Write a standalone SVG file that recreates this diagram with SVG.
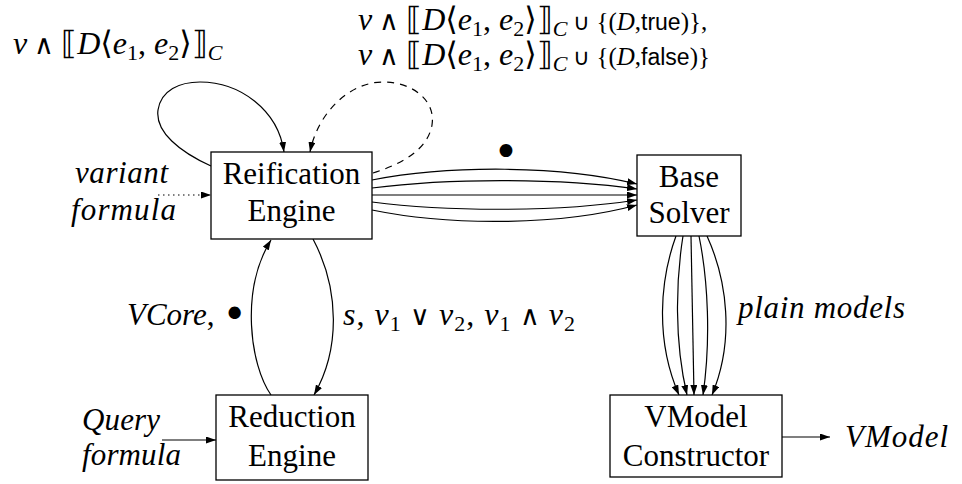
<svg xmlns="http://www.w3.org/2000/svg" width="962" height="484" viewBox="0 0 962 484">
<defs>
<marker id="arr" markerWidth="10" markerHeight="7" refX="10" refY="3.5" orient="auto" markerUnits="userSpaceOnUse">
<path d="M0,0 L10,3.5 L0,7 z" fill="#000"/>
</marker>
</defs>
<style>
.box{fill:#fff;stroke:#000;stroke-width:1.3}
.edge{fill:none;stroke:#000;stroke-width:1.2;marker-end:url(#arr)}
</style>

<g id="connectors">
<path class="edge" d="M211,166 C180,152 155,132 158,110 C161,90 180,82 200,82 C240,82 278,110 284,152"/>
<path class="edge" stroke-dasharray="7,6" d="M373,173 C405,163 428,148 432,125 C436,100 412,82 383,82 C350,82 318,112 310,152"/>
<path class="edge" stroke-dasharray="1.5,3.5" d="M158,195 L211,195"/>
<path class="edge" d="M372,180 C450,165 560,165 637,184"/>
<path class="edge" d="M372,188 C450,178 560,178 637,189"/>
<path class="edge" d="M372,195 L637,195"/>
<path class="edge" d="M372,202 C450,212 560,212 637,200"/>
<path class="edge" d="M372,210 C450,226 560,226 637,205"/>
<path class="edge" d="M271,395 C250,365 240,290 271,240"/>
<path class="edge" d="M313,239 C340,290 340,350 314,395"/>
<path class="edge" d="M676,236 C660,280 655,340 679,395"/>
<path class="edge" d="M683,236 C676,280 674,340 687,395"/>
<path class="edge" d="M691,236 L694,395"/>
<path class="edge" d="M699,236 C708,280 711,340 703,395"/>
<path class="edge" d="M707,236 C727,280 735,340 712,395"/>
<path class="edge" d="M162,440 L216,440"/>
<path class="edge" d="M782,437 L830,437"/>
</g>

<g id="reification">
<rect class="box" x="211" y="152" width="161" height="87"/>
<text font-family="Liberation Serif" font-size="31" text-anchor="middle" x="291.5" y="184">Reification</text>
<text font-family="Liberation Serif" font-size="31" text-anchor="middle" x="291.5" y="221">Engine</text>
</g>
<g id="base-solver">
<rect class="box" x="637" y="155" width="104" height="81"/>
<text font-family="Liberation Serif" font-size="31" text-anchor="middle" x="689" y="187">Base</text>
<text font-family="Liberation Serif" font-size="31" text-anchor="middle" x="689" y="223">Solver</text>
</g>
<g id="reduction">
<rect class="box" x="216" y="395" width="152" height="85"/>
<text font-family="Liberation Serif" font-size="31" text-anchor="middle" x="292" y="427">Reduction</text>
<text font-family="Liberation Serif" font-size="31" text-anchor="middle" x="292" y="466">Engine</text>
</g>
<g id="vmodel-constructor">
<rect class="box" x="610" y="395" width="172" height="82"/>
<text font-family="Liberation Serif" font-size="31" text-anchor="middle" x="696" y="427">VModel</text>
<text font-family="Liberation Serif" font-size="31" text-anchor="middle" x="696" y="466">Constructor</text>
</g>

<g id="labels">
<text font-family="Liberation Serif" font-size="32" x="13" y="54"><tspan font-style="italic">v</tspan><tspan font-family="Noto Sans" font-size="27"> ∧ </tspan><tspan font-family="DejaVu Serif">⟦</tspan><tspan font-style="italic">D</tspan><tspan font-family="DejaVu Serif">⟨</tspan><tspan font-style="italic">e</tspan><tspan font-size="22" dy="6">1</tspan><tspan dy="-6">, </tspan><tspan font-style="italic">e</tspan><tspan font-size="22" dy="6">2</tspan><tspan font-family="DejaVu Serif" dy="-6">⟩⟧</tspan><tspan font-size="22" font-style="italic" dy="6">C</tspan></text>

<text font-family="Liberation Serif" font-size="32" x="358" y="30"><tspan font-style="italic">v</tspan><tspan font-family="Noto Sans" font-size="27"> ∧ </tspan><tspan font-family="DejaVu Serif">⟦</tspan><tspan font-style="italic">D</tspan><tspan font-family="DejaVu Serif">⟨</tspan><tspan font-style="italic">e</tspan><tspan font-size="22" dy="6">1</tspan><tspan dy="-6">, </tspan><tspan font-style="italic">e</tspan><tspan font-size="22" dy="6">2</tspan><tspan font-family="DejaVu Serif" dy="-6">⟩⟧</tspan><tspan font-size="22" font-style="italic" dy="6">C</tspan><tspan font-family="Noto Sans" font-size="23" dy="-6"> ∪ </tspan><tspan font-size="25">{(</tspan><tspan font-size="25" font-style="italic">D</tspan><tspan font-size="25">,</tspan><tspan font-family="Liberation Sans" font-size="23">true</tspan><tspan font-size="25">)},</tspan></text>

<text font-family="Liberation Serif" font-size="32" x="358" y="65"><tspan font-style="italic">v</tspan><tspan font-family="Noto Sans" font-size="27"> ∧ </tspan><tspan font-family="DejaVu Serif">⟦</tspan><tspan font-style="italic">D</tspan><tspan font-family="DejaVu Serif">⟨</tspan><tspan font-style="italic">e</tspan><tspan font-size="22" dy="6">1</tspan><tspan dy="-6">, </tspan><tspan font-style="italic">e</tspan><tspan font-size="22" dy="6">2</tspan><tspan font-family="DejaVu Serif" dy="-6">⟩⟧</tspan><tspan font-size="22" font-style="italic" dy="6">C</tspan><tspan font-family="Noto Sans" font-size="23" dy="-6"> ∪ </tspan><tspan font-size="25">{(</tspan><tspan font-size="25" font-style="italic">D</tspan><tspan font-size="25">,</tspan><tspan font-family="Liberation Sans" font-size="23">false</tspan><tspan font-size="25">)}</tspan></text>

<text font-family="Liberation Serif" font-style="italic" font-size="31" x="75" y="183" textLength="93" lengthAdjust="spacing">variant</text>
<text font-family="Liberation Serif" font-style="italic" font-size="31" x="71" y="220" textLength="105" lengthAdjust="spacing">formula</text>
<text font-family="DejaVu Sans" font-size="44" x="506" y="167" text-anchor="middle">•</text>
<text font-family="Liberation Serif" font-size="31" x="127" y="325"><tspan font-style="italic">VCore</tspan>, <tspan font-family="DejaVu Sans" font-size="42" dy="4">•</tspan></text>
<text font-family="Liberation Serif" font-size="32" x="343" y="325" textLength="232" lengthAdjust="spacing"><tspan font-style="italic">s</tspan>, <tspan font-style="italic">v</tspan><tspan font-size="22" dy="6">1</tspan><tspan font-family="Noto Sans" font-size="27" dy="-6"> ∨ </tspan><tspan font-style="italic">v</tspan><tspan font-size="22" dy="6">2</tspan><tspan dy="-6">, </tspan><tspan font-style="italic">v</tspan><tspan font-size="22" dy="6">1</tspan><tspan font-family="Noto Sans" font-size="27" dy="-6"> ∧ </tspan><tspan font-style="italic">v</tspan><tspan font-size="22" dy="6">2</tspan></text>
<text font-family="Liberation Serif" font-style="italic" font-size="31" x="738" y="318" textLength="167" lengthAdjust="spacing">plain models</text>
<text font-family="Liberation Serif" font-style="italic" font-size="31" x="82" y="430" textLength="78" lengthAdjust="spacing">Query</text>
<text font-family="Liberation Serif" font-style="italic" font-size="31" x="82" y="465" textLength="99" lengthAdjust="spacing">formula</text>
<text font-family="Liberation Serif" font-style="italic" font-size="31" x="845" y="447" textLength="103" lengthAdjust="spacing">VModel</text>
</g>
</svg>
